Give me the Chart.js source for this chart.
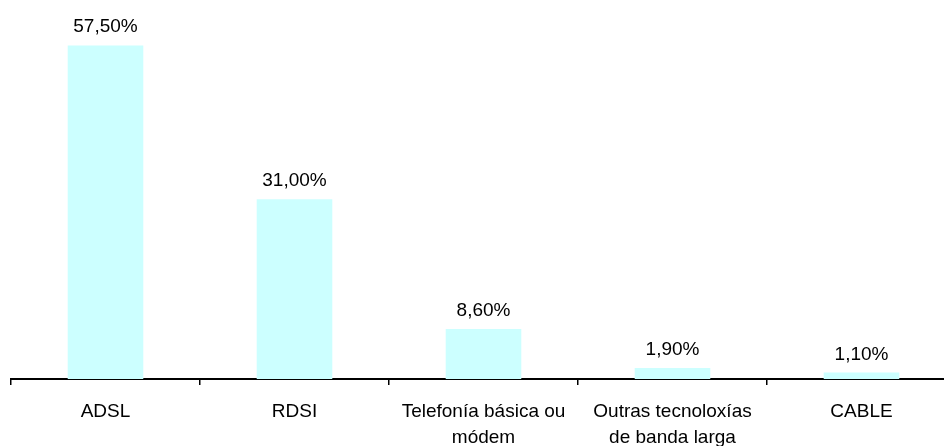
<!DOCTYPE html>
<html>
<head>
<meta charset="utf-8">
<script src="https://cdn.jsdelivr.net/npm/chart.js@4/dist/chart.umd.min.js"></script>
<style>
  html, body { margin: 0; padding: 0; background: #fff; overflow: hidden; }
  #wrap { width: 960px; height: 465px; position: relative; }
</style>
</head>
<body>
<div id="wrap"><canvas id="chart"></canvas></div>
<script>
const categories = [
  'ADSL',
  'RDSI',
  ['Telefonía básica ou', 'módem'],
  ['Outras tecnoloxías', 'de banda larga'],
  'CABLE',
];
const shares = [57.5, 31.0, 8.6, 1.9, 1.1];
const yMin = 0;
const yMax = 60;

const FONT = 'Arial, "Liberation Sans", sans-serif';

function formatPercent(value) {
  return `${value.toFixed(2).replace('.', ',')}%`;
}

const valueLabelPlugin = {
  id: 'valueLabels',
  afterDatasetsDraw(chart) {
    const { ctx } = chart;
    const meta = chart.getDatasetMeta(0);
    ctx.save();
    ctx.fillStyle = '#000';
    ctx.font = `19px ${FONT}`;
    ctx.textAlign = 'center';
    ctx.textBaseline = 'alphabetic';
    meta.data.forEach((bar, index) => {
      ctx.fillText(formatPercent(shares[index]), bar.x, bar.y - 13);
    });
    ctx.restore();
  },
};

const chartContext = document.getElementById('chart').getContext('2d');

new Chart(chartContext, {
  type: 'bar',
  data: {
    labels: categories,
    datasets: [
      {
        data: shares,
        backgroundColor: '#ccffff',
        borderWidth: 0,
        barPercentage: 0.4,
        categoryPercentage: 1,
      },
    ],
  },
  plugins: [valueLabelPlugin],
  options: {
    responsive: true,
    maintainAspectRatio: false,
    animation: false,
    layout: {
      padding: { left: 11, right: 4, top: 31, bottom: 0 },
    },
    plugins: {
      legend: { display: false },
      tooltip: { enabled: false },
    },
    scales: {
      y: {
        display: false,
        min: yMin,
        max: yMax,
      },
      x: {
        offset: true,
        border: { display: true, color: '#000', width: 2 },
        grid: {
          offset: true,
          drawOnChartArea: false,
          drawTicks: true,
          tickLength: 6,
          color: '#000',
          lineWidth: 1.5,
        },
        ticks: {
          color: '#000',
          font: { family: FONT, size: 19, lineHeight: 1.37 },
          padding: 14,
          maxRotation: 0,
          autoSkip: false,
        },
      },
    },
  },
});
</script>
</body>
</html>
